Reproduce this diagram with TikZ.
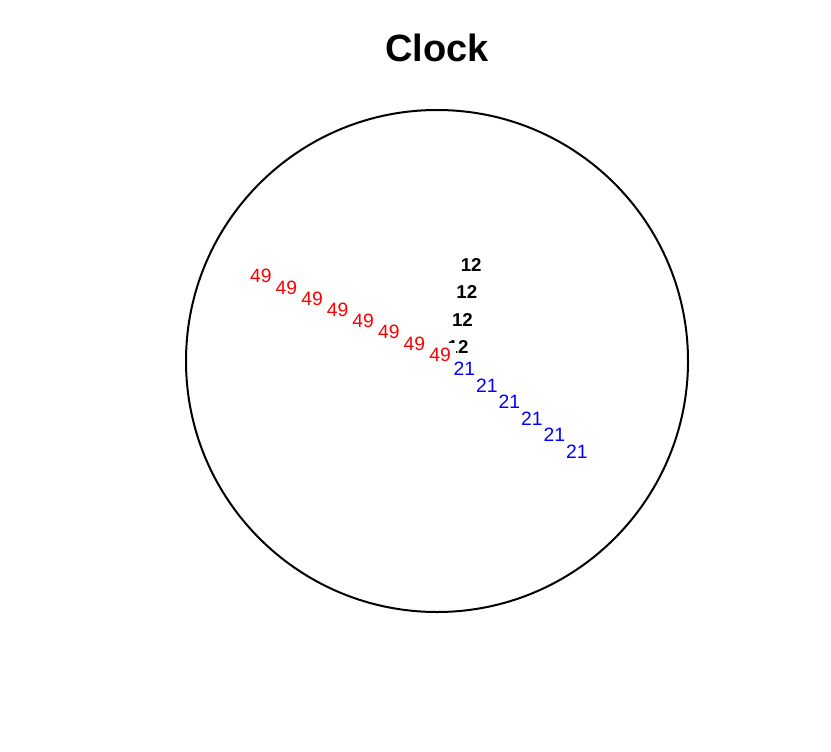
\documentclass[tikz,border=0pt]{standalone}
\usepackage{fontspec}
\setmainfont{Liberation Sans}
\usepackage{tikz}
\usetikzlibrary{positioning}

\begin{document}
\begin{tikzpicture}[
    x=0.75pt, y=-0.75pt,
    face/.style={circle, draw, line width=1.5pt, minimum size=376.5pt, inner sep=0pt},
    hand/.style={fill=white, inner sep=2pt, font=\fontsize{14.5}{17}\selectfont},
    hourlbl/.style={hand, font=\fontsize{14}{17}\selectfont\bfseries},
    minlbl/.style={hand, text=red, inner sep=3.75pt}
  ]
    \useasboundingbox (0,0) rectangle (831,752);
    \node[font=\fontsize{28.5}{34}\selectfont\bfseries] (title) at (437,48) {Clock};
    \node[face] (face) at (437,361) {};

    % hour, minute and second hands, drawn as repeated labels
    \foreach \k in {0,...,3}
      \node[hourlbl] (hour\k) at ({458+4.4*\k},{346.7-27.2*\k}) {12};
    \foreach \k in {0,...,7}
      \node[minlbl] (min\k) at ({440-25.6*\k},{354.7-11.2*\k}) {49};
    \foreach \k in {0,...,5}
      \node[hand, text=blue] (sec\k) at ({464.3+22.5*\k},{369+16.5*\k}) {21};
  \end{tikzpicture}
\end{document}
